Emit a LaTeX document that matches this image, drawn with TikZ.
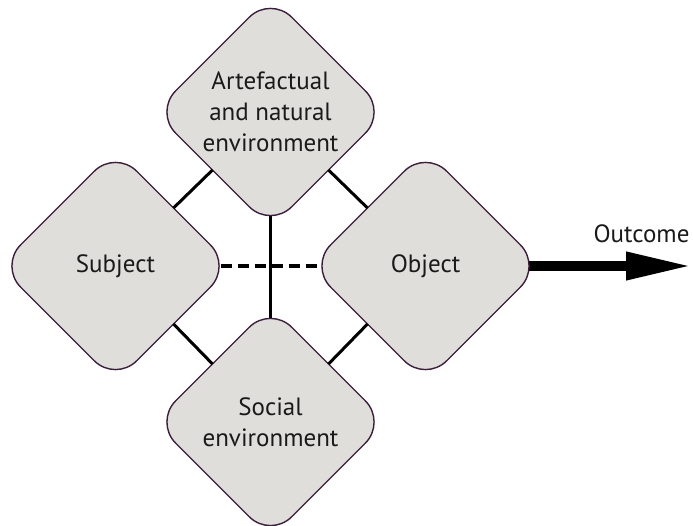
\documentclass[tikz,border=0pt]{standalone}
\usepackage{fontspec}
\setmainfont{PT Sans}
\usetikzlibrary{shapes.geometric,arrows.meta,backgrounds}
\definecolor{boxfill}{HTML}{DFDEDA}
\definecolor{boxline}{HTML}{3B1E3B}
\definecolor{txt}{HTML}{1A1A1A}
\tikzset{
  rdiamond/.style={diamond, aspect=1, draw=boxline, line width=1.4pt, fill=boxfill,
    minimum width=232pt, minimum height=232pt, inner sep=0pt, outer sep=0pt,
    rounded corners=30pt, align=center, text=txt,
    font=\fontsize{25}{31}\selectfont},
  link/.style={line width=3pt, black},
  dlink/.style={line width=4.5pt, black, dash pattern=on 11pt off 6pt, dash phase=-3pt},
  outarrow/.style={line width=10pt, black, -{Triangle[length=66pt,width=26pt]}},
  lbl/.style={text=txt, font=\fontsize{25}{31}\selectfont, inner sep=0pt}
}
\begin{document}
\begin{tikzpicture}[x=1pt,y=-1pt]
\useasboundingbox (0,0) rectangle (693,526);
\node[rdiamond] (top) at (270.5,112) {Artefactual\\and natural\\environment};
\node[rdiamond] (left) at (115.5,266) {Subject};
\node[rdiamond] (right) at (425.5,266) {Object};
\node[rdiamond] (bot) at (270.5,422) {Social\\environment};
\coordinate (outend) at (692,266);
\node[lbl, anchor=base] (outlbl) at (641.5,243) {Outcome};
\begin{scope}[on background layer]
  \draw[link] (top.center) -- (bot.center);
  \draw[dlink] (left.center) -- (right.center);
  \draw[outarrow] (right.center) -- (outend);
\end{scope}
\draw[link] (top.south west) -- (left.north east);
\draw[link] (top.south east) -- (right.north west);
\draw[link] (bot.north west) -- (left.south east);
\draw[link] (bot.north east) -- (right.south west);
\end{tikzpicture}
\end{document}
